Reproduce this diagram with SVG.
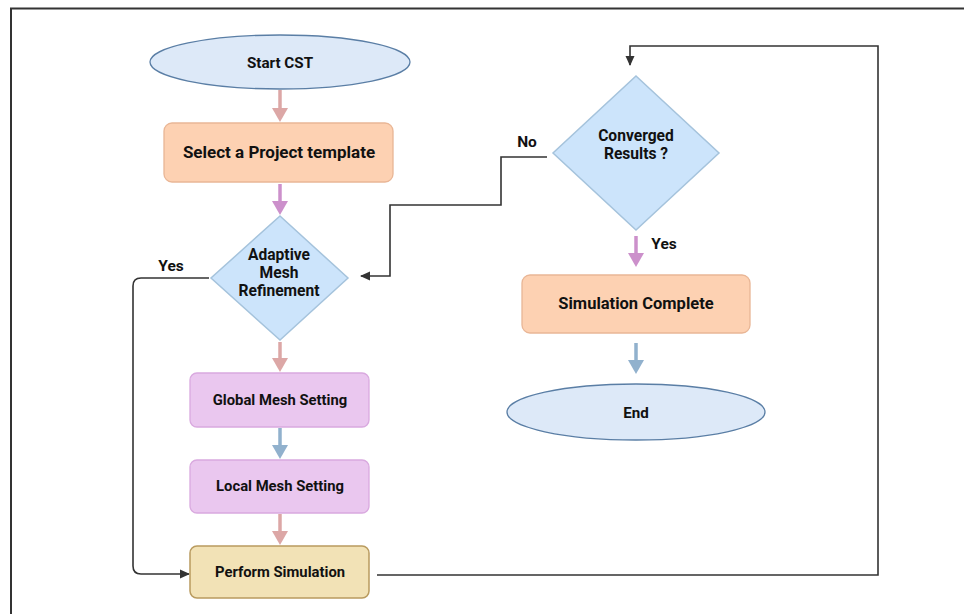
<svg xmlns="http://www.w3.org/2000/svg" width="964" height="614" viewBox="0 0 964 614">
<style>
text{font-family:Roboto,"Liberation Sans",sans-serif;font-weight:bold;fill:#111;text-anchor:middle}
.t17{font-size:17px}.t16{font-size:16.5px}.tm{font-size:15.6px}.t15{font-size:15.2px}.t14{font-size:14.8px}.tl{font-size:15.5px}
.ell{fill:#dde9f8;stroke:#5a7ea5;stroke-width:1.3}
.dia{fill:#cce4fb;stroke:#a5c3dc;stroke-width:1.5}
.orange{fill:#fdd1b2;stroke:#e9b696;stroke-width:1.3}
.violet{fill:#eac7ef;stroke:#d9a9df;stroke-width:1.3}
.tan{fill:#f2e2b6;stroke:#b99b5f;stroke-width:1.5}
.fat{stroke-width:3.5;fill:none}
.pink{stroke:#dca7a6}.purp{stroke:#cc90cb}.blue{stroke:#91b1cd}
.dark{fill:none;stroke:#333;stroke-width:1.6}
</style>
<defs>
<marker id="hp" markerUnits="userSpaceOnUse" markerWidth="16" markerHeight="16" refX="0" refY="8" orient="auto" viewBox="0 0 16 16"><path d="M0,0L14,8L0,16z" fill="#dca7a6"/></marker>
<marker id="hv" markerUnits="userSpaceOnUse" markerWidth="16" markerHeight="16" refX="0" refY="8" orient="auto" viewBox="0 0 16 16"><path d="M0,0L14,8L0,16z" fill="#cc90cb"/></marker>
<marker id="hb" markerUnits="userSpaceOnUse" markerWidth="16" markerHeight="16" refX="0" refY="8" orient="auto" viewBox="0 0 16 16"><path d="M0,0L14,8L0,16z" fill="#91b1cd"/></marker>
<marker id="hd" markerUnits="userSpaceOnUse" markerWidth="10" markerHeight="10" refX="9" refY="5" orient="auto" viewBox="0 0 10 10"><path d="M0,0.5L10,5L0,9.5z" fill="#333"/></marker>
</defs>
<path d="M11,614V8.5H964" fill="none" stroke="#333" stroke-width="2"/>
<g id="connectors">
<line class="fat pink" x1="280" y1="90" x2="280" y2="108" marker-end="url(#hp)"/>
<line class="fat purp" x1="280" y1="184" x2="280" y2="201" marker-end="url(#hv)"/>
<line class="fat pink" x1="280" y1="342" x2="280" y2="358" marker-end="url(#hp)"/>
<line class="fat blue" x1="280" y1="428" x2="280" y2="445" marker-end="url(#hb)"/>
<line class="fat pink" x1="280" y1="514" x2="280" y2="531" marker-end="url(#hp)"/>
<line class="fat purp" x1="636" y1="236" x2="636" y2="253" marker-end="url(#hv)"/>
<line class="fat blue" x1="636" y1="343" x2="636" y2="360" marker-end="url(#hb)"/>
<path class="dark" d="M209,278H141Q133,278 133,286V566Q133,574 141,574H189" marker-end="url(#hd)"/>
<path class="dark" d="M377,575H878V46H630V65" marker-end="url(#hd)"/>
<path class="dark" d="M547,157H501V205H390V276H361" marker-end="url(#hd)"/>
<text class="tl" x="171" y="271">Yes</text>
<text class="tl" x="527" y="147">No</text>
<text class="tl" x="664" y="249">Yes</text>
</g>
<g id="start"><ellipse class="ell" cx="280" cy="62" rx="130" ry="27"/><text class="t15" x="280" y="68">Start CST</text></g>
<g id="select"><rect class="orange" x="164" y="123" width="229" height="59" rx="8"/><text class="t17" x="279" y="158">Select a Project template</text></g>
<g id="adaptive"><path class="dia" d="M280,216L348,278L280,340L211,278z"/><text class="tm" x="279" y="260">Adaptive</text><text class="tm" x="279" y="278">Mesh</text><text class="tm" x="279" y="296">Refinement</text></g>
<g id="global"><rect class="violet" x="190" y="373" width="179" height="54" rx="7"/><text class="t14" x="280" y="405">Global Mesh Setting</text></g>
<g id="local"><rect class="violet" x="190" y="460" width="179" height="53" rx="7"/><text class="t14" x="280" y="491">Local Mesh Setting</text></g>
<g id="perform"><rect class="tan" x="190" y="546" width="179" height="52" rx="7"/><text class="t14" x="280" y="577">Perform Simulation</text></g>
<g id="converged"><path class="dia" d="M636,76L719,153L636,230L553,153z"/><text class="tm" x="636" y="141">Converged</text><text class="tm" x="636" y="159">Results ?</text></g>
<g id="complete"><rect class="orange" x="522" y="275" width="228" height="58" rx="8"/><text class="t16" x="636" y="309">Simulation Complete</text></g>
<g id="end"><ellipse class="ell" cx="636" cy="412" rx="129" ry="28"/><text class="t15" x="636" y="418">End</text></g>
</svg>
